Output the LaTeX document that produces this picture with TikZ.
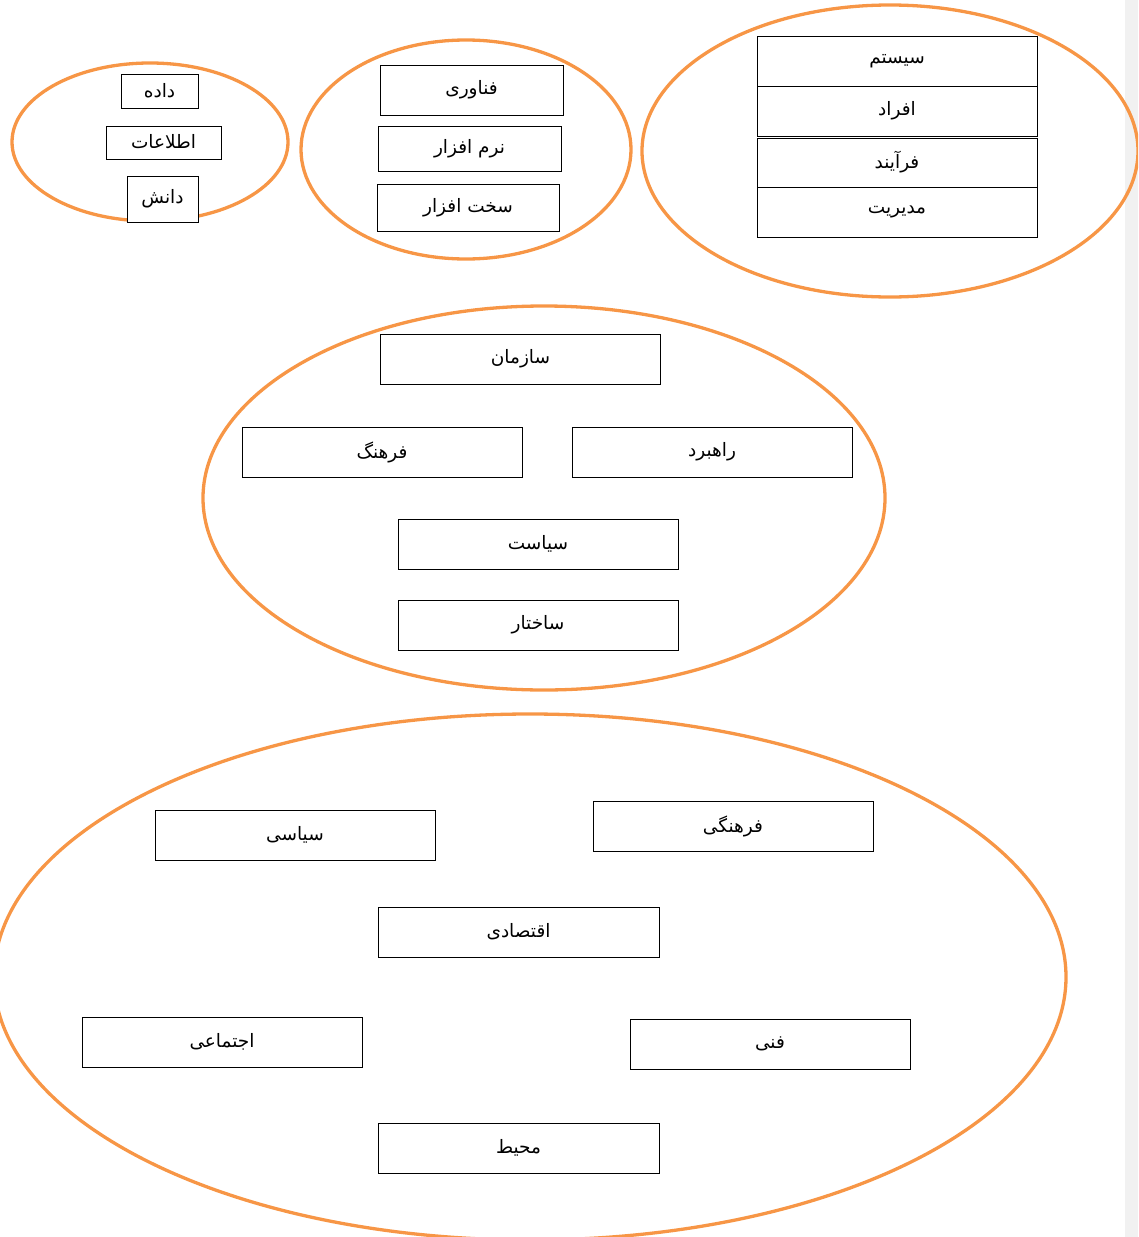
\documentclass[tikz,border=0pt]{standalone}
\usepackage{fontspec}
\usetikzlibrary{shapes.geometric}
\TeXXeTstate=1
\newfontfamily\arabicfont[Script=Arabic]{DejaVu Sans}
\definecolor{ring}{HTML}{F79646}
\definecolor{strip}{HTML}{F1F1F1}
\tikzset{
  ring/.style={draw=ring, line width=3.3pt, ellipse, inner sep=0pt},
  term/.style={draw=black, line width=0.8pt, fill=white, inner sep=0pt,
    font=\arabicfont\fontsize{18.5}{22}\selectfont},
}
\newcommand{\rl}[1]{\raisebox{2pt}{\beginR #1\endR}}
\begin{document}
\begin{tikzpicture}[x=1pt,y=-1pt]
\useasboundingbox (0,0) rectangle (1138,1237);
\clip (0,0) rectangle (1138,1237);
\fill[strip] (1125,0) rectangle (1138,1237);
% ellipses
\node[ring, minimum width=276pt, minimum height=158pt] (e1) at (150,142) {};
\node[ring, minimum width=330pt, minimum height=219pt] (e2) at (466,149.5) {};
\node[ring, minimum width=496pt, minimum height=292pt] (e3) at (890,151) {};
\node[ring, minimum width=682pt, minimum height=384pt] (e4) at (544,498) {};
\node[ring, minimum width=1072pt, minimum height=526pt] (e5) at (530,977) {};
% small ellipse boxes
\node[term, minimum width=77pt, minimum height=34pt] (b1) at (159.5,91) {\rl{داده}};
\node[term, minimum width=115pt, minimum height=33pt] (b2) at (163.5,142.5) {\rl{اطلاعات}};
\node[term, minimum width=71pt, minimum height=46pt] (b3) at (162.5,199) {\rl{دانش}};
% middle top
\node[term, minimum width=183pt, minimum height=50pt] (t1) at (471.5,90) {\rl{فناوری}};
\node[term, minimum width=183pt, minimum height=45pt] (t2) at (469.5,148.5) {\rl{نرم افزار}};
\node[term, minimum width=182pt, minimum height=47pt] (t3) at (468,207.5) {\rl{سخت افزار}};
% right stack
\node[term, minimum width=280pt, minimum height=50pt] (s1) at (897,61) {\rl{سیستم}};
\node[term, minimum width=280pt, minimum height=50pt] (s2) at (897,111) {\rl{افراد}};
\node[term, minimum width=280pt, minimum height=49pt] (s3) at (897,162.5) {\rl{فرآیند}};
\node[term, minimum width=280pt, minimum height=50pt] (s4) at (897,212) {\rl{مدیریت}};
% organization
\node[term, minimum width=280pt, minimum height=50pt] (o1) at (520.5,359) {\rl{سازمان}};
\node[term, minimum width=280pt, minimum height=50pt] (o2) at (382,452) {\rl{فرهنگ}};
\node[term, minimum width=280pt, minimum height=50pt] (o3) at (712,452) {\rl{راهبرد}};
\node[term, minimum width=280pt, minimum height=50pt] (o4) at (538,544) {\rl{سیاست}};
\node[term, minimum width=280pt, minimum height=50pt] (o5) at (538,625) {\rl{ساختار}};
% environment
\node[term, minimum width=280pt, minimum height=50pt] (v1) at (295,835) {\rl{سیاسی}};
\node[term, minimum width=280pt, minimum height=50pt] (v2) at (733,826) {\rl{فرهنگی}};
\node[term, minimum width=281pt, minimum height=50pt] (v3) at (518.5,932) {\rl{اقتصادی}};
\node[term, minimum width=280pt, minimum height=50pt] (v4) at (222,1042) {\rl{اجتماعی}};
\node[term, minimum width=280pt, minimum height=50pt] (v5) at (770,1044) {\rl{فنی}};
\node[term, minimum width=281pt, minimum height=50pt] (v6) at (518.5,1148) {\rl{محیط}};
\end{tikzpicture}
\end{document}
